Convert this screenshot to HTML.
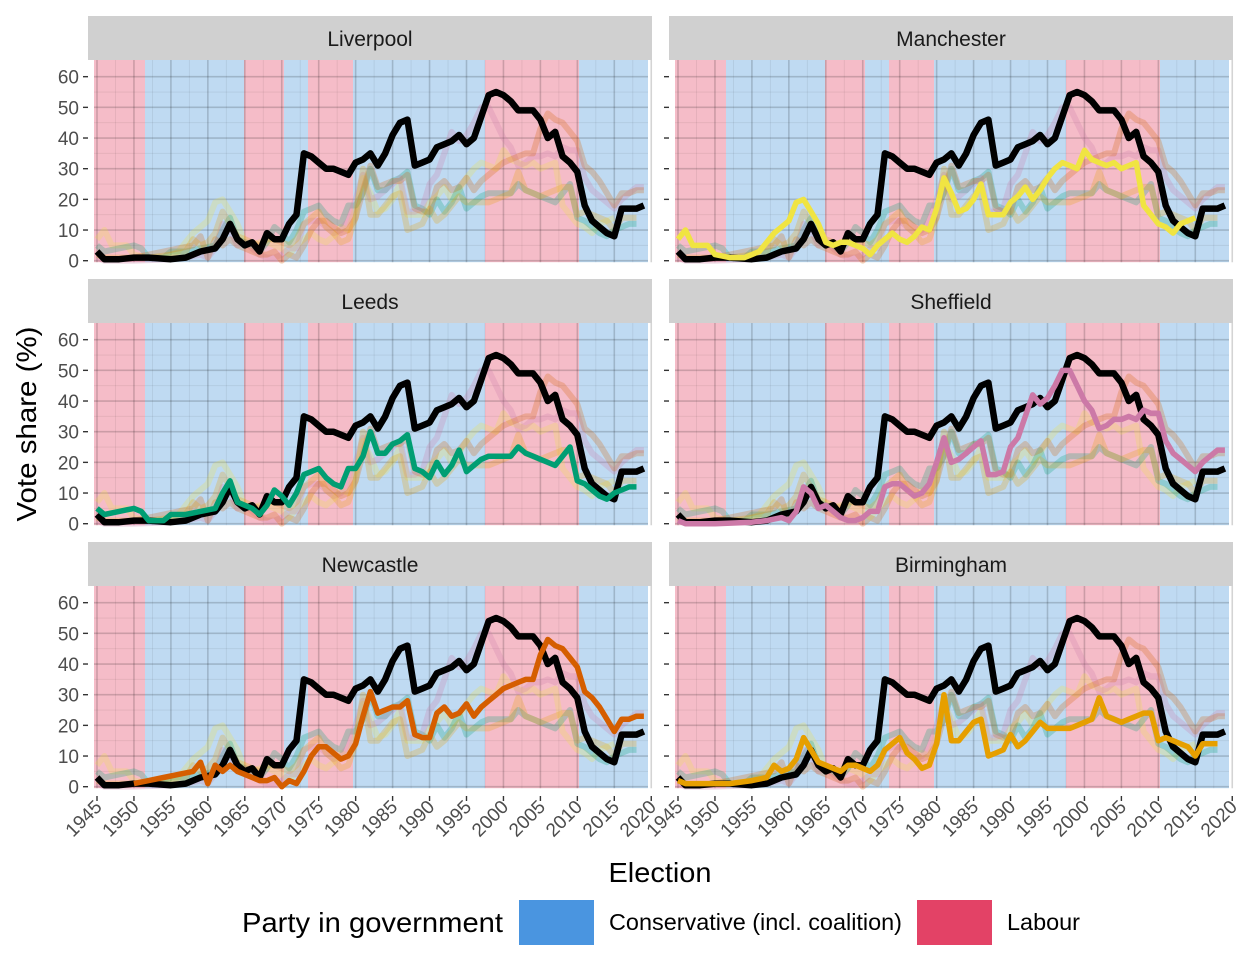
<!DOCTYPE html>
<html><head><meta charset="utf-8"><style>
html,body{margin:0;padding:0;background:#fff;}
svg{display:block;font-family:"Liberation Sans",Arial,sans-serif;}
</style></head><body>
<svg id="s" width="1248" height="960" xmlns="http://www.w3.org/2000/svg"></svg>
<script>
const S=document.getElementById('s');let h='';
const D={
L:{1945:3,1946:0.5,1948:0.5,1950:1,1952:1,1955:0.5,1957:1,1959:3,1961:4,1962:7,1963:12,1964:7,1965:5,1966:6,1967:3,1968:9,1969:7,1970:7,1971:12,1972:15,1973:35,1974:34,1975:32,1976:30,1977:30,1978:29,1979:28,1980:32,1981:33,1982:35,1983:31,1984:35,1985:41,1986:45,1987:46,1988:31,1989:32,1990:33,1991:37,1992:38,1993:39,1994:41,1995:38,1996:40,1997:47,1998:54,1999:55,2000:54,2001:52,2002:49,2003:49,2004:49,2005:46,2006:40,2007:42,2008:34,2009:32,2010:29,2011:18,2012:13,2013:11,2014:9,2015:8,2016:17,2017:17,2018:17,2019:18},
M:{1945:7,1946:10,1947:5,1949:5,1950:2,1952:1,1954:1,1955:2,1956:3,1957:6,1958:9,1959:11,1960:13,1961:19,1962:20,1963:16,1964:12,1965:6,1966:5,1967:6,1968:6,1969:5,1970:4,1971:2,1972:5,1973:7,1974:9,1975:7,1976:6,1977:8,1978:11,1979:10,1980:17,1981:27,1982:22,1983:16,1984:17,1985:20,1986:25,1987:15,1988:15,1989:15,1990:19,1991:21,1992:24,1993:20,1994:23,1995:27,1996:30,1997:32,1998:31,1999:30,2000:36,2001:33,2002:32,2003:31,2004:32,2005:30,2006:31,2007:32,2008:18,2009:15,2010:12,2011:11,2012:9,2013:12,2014:13,2015:14},
G:{1945:5,1946:3,1950:5,1951:4,1952:1,1954:1,1955:3,1957:3,1959:4,1961:5,1962:10,1963:14,1964:7,1966:5,1967:3,1968:6,1969:11,1970:9,1971:6,1972:10,1973:16,1974:17,1975:18,1976:15,1977:13,1978:12,1979:18,1980:18,1981:22,1982:30,1983:23,1984:23,1985:26,1986:27,1987:29,1988:18,1989:17,1990:15,1991:20,1992:16,1993:19,1994:24,1995:17,1996:19,1997:21,1998:22,1999:22,2000:22,2001:22,2002:25,2003:23,2004:22,2005:21,2006:20,2007:19,2008:22,2009:25,2010:14,2011:13,2012:11,2013:9,2014:8,2015:10,2016:11,2017:12,2018:12},
P:{1945:1,1946:0,1950:0,1955:0.5,1957:1,1959:2,1960:1,1961:4,1962:12,1963:10,1964:5,1965:6,1966:4,1967:2,1968:1,1969:1,1970:2,1971:4,1972:4,1973:12,1974:13,1975:13,1976:11,1977:9,1978:10,1979:13,1980:20,1981:28,1982:20,1983:21,1984:23,1985:25,1986:27,1987:16,1988:16,1989:17,1990:25,1991:28,1992:35,1993:42,1994:39,1995:41,1996:45,1997:50,1998:50,1999:45,2000:40,2001:37,2002:31,2003:32,2004:34,2005:34,2006:35,2007:34,2008:37,2009:36,2010:36,2011:27,2012:23,2013:21,2014:19,2015:17,2016:20,2017:22,2018:24,2019:24},
N:{1950:1,1952:2,1954:3,1956:4,1958:5,1959:8,1960:1,1961:7,1962:5,1963:7,1964:5,1965:4,1966:3,1967:2,1968:2,1969:3,1970:0,1971:2,1972:1,1973:5,1974:10,1975:13,1976:13,1977:11,1978:9,1979:10,1980:14,1981:23,1982:31,1983:24,1984:25,1985:26,1986:26,1987:28,1988:17,1989:16,1990:16,1991:24,1992:26,1993:23,1994:24,1995:27,1996:23,1997:26,1998:28,1999:30,2000:32,2001:33,2002:34,2003:35,2004:35,2005:43,2006:48,2007:46,2008:45,2009:42,2010:39,2011:31,2012:29,2013:26,2014:22,2015:18,2016:22,2017:22,2018:23,2019:23},
B:{1945:2,1946:1,1948:1,1950:1,1952:1,1955:2,1957:3,1958:7,1959:5,1960:6,1961:9,1962:16,1963:12,1964:8,1965:7,1966:6,1967:5,1968:7,1969:7,1970:6,1971:5,1972:7,1973:12,1974:14,1975:16,1976:11,1977:9,1978:6,1979:7,1980:14,1981:30,1982:15,1983:15,1984:18,1985:21,1986:22,1987:10,1988:11,1989:12,1990:17,1991:13,1992:15,1993:18,1994:21,1995:19,1996:19,1997:19,1998:19,1999:20,2000:21,2001:22,2002:29,2003:23,2004:22,2005:21,2006:22,2007:23,2008:24,2009:24,2010:15,2011:16,2012:15,2013:14,2014:13,2015:10,2016:14,2017:14,2018:14}
};
const C={L:'#000000',M:'#f0e442',G:'#009e73',P:'#cc79a7',N:'#d55e00',B:'#e69f00'};
const panels=[['Liverpool','L',0,0],['Manchester','M',1,0],['Leeds','G',0,1],['Sheffield','P',1,1],['Newcastle','N',0,2],['Birmingham','B',1,2]];
const shade=[[94,145,'r'],[145,244,'b'],[244,284,'r'],[284,308,'b'],[308,353,'r'],[353,485,'b'],[485,579,'r'],[579,648,'b']];
panels.forEach(([name,k,c,r])=>{
 const dx=c*581, top=16+r*263, y0=260.7+r*263, py=60+r*263;
 const X=yr=>97+dx+(yr-1945)*7.39, Y=v=>y0-v*3.067;
 h+=`<rect x="${88+dx}" y="${top}" width="564" height="44" fill="#d0d0d0"/>`;
 h+=`<text x="${370+dx}" y="${top+30}" font-size="21" text-anchor="middle" fill="#1a1a1a">${name}</text>`;
 shade.forEach(([a,b,t])=>{h+=`<rect x="${a+dx}" y="${py}" width="${b-a}" height="${y0+1.5-py}" fill="${t=='r'?'#f5bcc8':'#bfdaf2'}"/>`;});
 for(let yr=1945;yr<=2020;yr+=2.5){const maj=(yr%5==0);h+=`<line x1="${X(yr)}" x2="${X(yr)}" y1="${py}" y2="${y0+1.5}" stroke="rgba(0,0,0,${maj?0.17:0.07})" stroke-width="${maj?1.6:0.9}"/>`;}
 for(let v=0;v<=60;v+=5){const maj=(v%10==0);h+=`<line x1="${94+dx}" x2="${648+dx}" y1="${Y(v)}" y2="${Y(v)}" stroke="rgba(0,0,0,${maj?0.17:0.07})" stroke-width="${maj?1.6:0.9}"/>`;}
 const path=key=>Object.keys(D[key]).map((yr,i)=>(i?'L':'M')+X(+yr).toFixed(1)+','+Y(D[key][yr]).toFixed(1)).join('');
 ['M','G','P','N','B'].forEach(kk=>{if(kk!==k)h+=`<path d="${path(kk)}" fill="none" stroke="${C[kk]}" stroke-opacity="0.25" stroke-width="6" stroke-linejoin="round"/>`;});
 h+=`<path d="${path('L')}" fill="none" stroke="#000" stroke-width="6.5" stroke-linejoin="round"/>`;
 if(k!=='L')h+=`<path d="${path(k)}" fill="none" stroke="${C[k]}" stroke-width="5.5" stroke-linejoin="round"/>`;
 for(let v=0;v<=60;v+=10){h+=`<line x1="${83+dx}" x2="${88+dx}" y1="${Y(v)}" y2="${Y(v)}" stroke="#333" stroke-width="1.4"/>`;
   if(c==0)h+=`<text x="79" y="${Y(v)+7}" font-size="19" text-anchor="end" fill="#4d4d4d">${v}</text>`;}
 if(r==2){for(let yr=1945;yr<=2020;yr+=5){const x=X(yr);h+=`<line x1="${x}" x2="${x}" y1="796" y2="801" stroke="#333" stroke-width="1.4"/><text transform="translate(${x+6},${808}) rotate(-45)" font-size="19" text-anchor="end" fill="#4d4d4d">${yr}</text>`;}}
});
h+=`<text x="660" y="882" font-size="28" text-anchor="middle" fill="#000" textLength="103" lengthAdjust="spacingAndGlyphs">Election</text>`;
h+=`<text transform="translate(36,424) rotate(-90)" font-size="28" text-anchor="middle" fill="#000" textLength="195" lengthAdjust="spacingAndGlyphs">Vote share (%)</text>`;
h+=`<text x="242" y="932" font-size="28" fill="#000" textLength="261" lengthAdjust="spacingAndGlyphs">Party in government</text>`;
h+=`<rect x="519" y="900" width="75" height="45" fill="#4a95e0"/><text x="609" y="930" font-size="23" fill="#000" textLength="293" lengthAdjust="spacingAndGlyphs">Conservative (incl. coalition)</text>`;
h+=`<rect x="917" y="900" width="75" height="45" fill="#e34266"/><text x="1007" y="930" font-size="23" fill="#000" textLength="73" lengthAdjust="spacingAndGlyphs">Labour</text>`;
S.innerHTML=h;
</script>
</body></html>
